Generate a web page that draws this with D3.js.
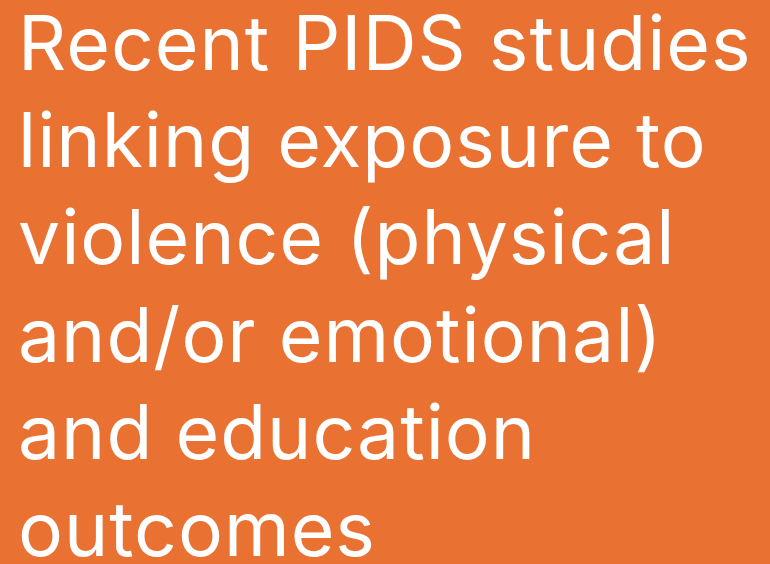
<!DOCTYPE html>
<html>
<head>
<meta charset="utf-8">
<script src="https://d3js.org/d3.v7.min.js"></script>
<style>
  body { margin: 0; background: #E97132; overflow: hidden; }
  svg { display: block; }
  .title-line { fill: #ffffff; font-family: "Inter", sans-serif; font-size: 75px; letter-spacing: 1px; }
</style>
</head>
<body>
<script>
var titleLines = ["Recent PIDS studies",
                  "linking exposure to",
                  "violence (physical",
                  "and/or emotional)",
                  "and education",
                  "outcomes"];

var width = 770, height = 564;
var lineStep = 97.2;

var svg = d3.select("body").append("svg")
    .attr("width", width).attr("height", height);

svg.append("rect")
    .attr("width", width).attr("height", height)
    .attr("fill", "#E97132");

svg.selectAll("text.title-line")
    .data(titleLines)
    .join("text")
    .attr("class", "title-line")
    .attr("x", 18)
    .attr("y", function(d, i){ return 70 + i * lineStep; })
    .text(function(d){ return d; });
</script>
</body>
</html>
